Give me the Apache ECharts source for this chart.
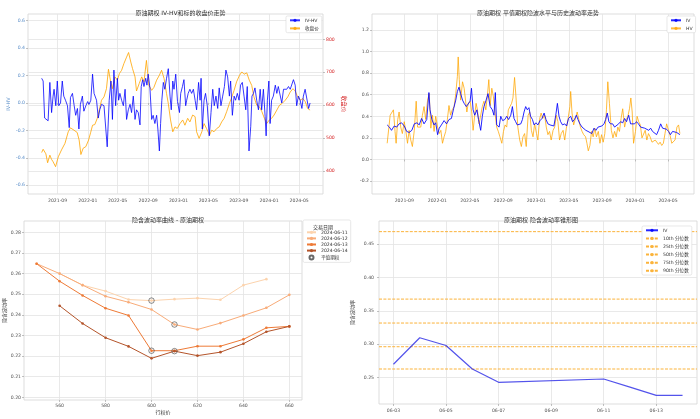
<!DOCTYPE html>
<html><head><meta charset="utf-8">
<script src="https://cdn.jsdelivr.net/npm/echarts@6/dist/echarts.min.js"></script>
<style>html,body{margin:0;padding:0;background:#fff}#c{width:700px;height:419px}</style>
</head><body><div id="c"></div>
<script>
// ---------- data: top-left (IV-HV and underlying close) ----------
const ivhvDates = ['2021-06-29','2021-07-05','2021-07-11','2021-07-18','2021-07-25','2021-08-01','2021-08-08','2021-08-14','2021-08-18','2021-08-25','2021-08-31','2021-09-06','2021-09-13','2021-09-20','2021-09-26','2021-10-03','2021-10-11','2021-10-18','2021-10-23','2021-10-31','2021-11-07','2021-11-13','2021-11-20','2021-11-26','2021-12-02','2021-12-10','2021-12-16','2021-12-24','2021-12-31','2022-01-06','2022-01-13','2022-01-20','2022-01-26','2022-02-05','2022-02-12','2022-02-18','2022-02-25','2022-03-07','2022-03-15','2022-03-20','2022-03-28','2022-04-04','2022-04-10','2022-04-16','2022-04-23','2022-04-30','2022-05-05','2022-05-10','2022-05-17','2022-05-24','2022-05-31','2022-06-06','2022-06-13','2022-06-20','2022-06-26','2022-07-03','2022-07-10','2022-07-16','2022-07-23','2022-07-30','2022-08-04','2022-08-10','2022-08-15','2022-08-22','2022-08-27','2022-09-01','2022-09-08','2022-09-15','2022-09-21','2022-09-28','2022-10-05','2022-10-10','2022-10-16','2022-10-21','2022-10-26','2022-11-01','2022-11-07','2022-11-14','2022-11-21','2022-11-28','2022-12-03','2022-12-09','2022-12-14','2022-12-21','2022-12-28','2023-01-05','2023-01-10','2023-01-17','2023-01-23','2023-01-30','2023-02-03','2023-02-09','2023-02-16','2023-02-23','2023-03-02','2023-03-09','2023-03-15','2023-03-23','2023-03-29','2023-04-02','2023-04-07','2023-04-14','2023-04-20','2023-04-27','2023-05-05','2023-05-12','2023-05-19','2023-05-25','2023-06-01','2023-06-08','2023-06-14','2023-06-21','2023-06-28','2023-07-05','2023-07-11','2023-07-18','2023-07-25','2023-07-30','2023-08-06','2023-08-13','2023-08-19','2023-08-26','2023-09-02','2023-09-08','2023-09-15','2023-09-22','2023-09-29','2023-10-05','2023-10-12','2023-10-19','2023-10-24','2023-10-30','2023-11-05','2023-11-12','2023-11-19','2023-11-26','2023-12-02','2023-12-09','2023-12-16','2023-12-20','2023-12-25','2023-12-31','2024-01-05','2024-01-11','2024-01-18','2024-01-26','2024-02-01','2024-02-07','2024-02-14','2024-02-21','2024-02-28','2024-03-06','2024-03-12','2024-03-19','2024-03-26','2024-04-01','2024-04-08','2024-04-15','2024-04-21','2024-04-28','2024-05-05','2024-05-12','2024-05-18','2024-05-25','2024-06-01','2024-06-08','2024-06-14'];
const ivhvValues = [0.18,0.16,-0.11,-0.12,-0.13,0.15,-0.07,0.05,0.10,-0.02,0.16,-0.02,0.00,0.16,0.05,0.02,-0.02,-0.18,0.04,0.07,-0.02,-0.09,-0.04,-0.19,-0.01,0.05,-0.06,-0.02,0.01,-0.01,0.02,0.21,0.07,0.02,-0.11,-0.05,-0.01,-0.02,-0.02,-0.32,0.02,0.16,-0.12,0.24,-0.02,0.18,0.02,0.07,0.02,-0.02,0.10,-0.12,-0.05,-0.01,-0.07,0.05,-0.12,-0.05,-0.07,-0.16,0.12,0.17,0.12,0.18,0.13,0.21,0.11,-0.12,-0.09,-0.15,-0.09,-0.19,-0.35,-0.15,0.02,0.15,0.10,0.18,0.25,0.05,-0.05,0.16,0.10,0.21,0.01,-0.07,0.07,0.12,0.17,-0.02,0.02,0.07,0.10,0.07,0.10,0.02,-0.05,0.15,0.02,0.18,-0.19,0.02,0.07,-0.02,-0.24,-0.07,0.10,-0.02,0.05,-0.04,0.11,-0.02,0.05,0.12,0.24,0.19,0.05,0.16,-0.09,0.05,0.02,0.07,0.02,0.13,0.15,0.05,-0.05,0.12,-0.35,-0.17,0.05,0.07,0.11,0.02,-0.05,0.10,-0.05,0.10,-0.10,-0.24,0.02,0.16,-0.15,0.02,0.05,0.13,0.07,0.12,0.11,0.00,0.10,0.11,0.10,0.12,0.10,0.11,0.17,0.13,-0.02,0.05,0.02,-0.04,0.05,0.10,0.09,-0.04,0.00];
const priceDates = ['2021-06-29','2021-07-05','2021-07-16','2021-07-23','2021-08-01','2021-08-08','2021-08-14','2021-08-24','2021-09-04','2021-09-17','2021-10-01','2021-10-14','2021-10-23','2021-11-06','2021-11-19','2021-11-27','2021-12-04','2021-12-13','2021-12-24','2022-01-04','2022-01-12','2022-01-20','2022-01-29','2022-02-08','2022-02-16','2022-02-25','2022-03-07','2022-03-17','2022-03-25','2022-04-03','2022-04-10','2022-04-20','2022-04-30','2022-05-08','2022-05-17','2022-05-26','2022-06-06','2022-06-14','2022-06-23','2022-06-30','2022-07-10','2022-07-16','2022-07-27','2022-08-06','2022-08-15','2022-08-25','2022-09-04','2022-09-15','2022-09-24','2022-10-05','2022-10-16','2022-10-25','2022-11-04','2022-11-14','2022-11-21','2022-11-30','2022-12-09','2022-12-18','2022-12-27','2023-01-07','2023-01-18','2023-01-27','2023-02-07','2023-02-16','2023-02-27','2023-03-09','2023-03-15','2023-03-25','2023-04-05','2023-04-14','2023-04-24','2023-05-06','2023-05-15','2023-05-24','2023-06-04','2023-06-14','2023-06-24','2023-07-04','2023-07-14','2023-07-25','2023-08-04','2023-08-13','2023-08-23','2023-09-04','2023-09-13','2023-09-22','2023-10-03','2023-10-13','2023-10-23','2023-11-01','2023-11-12','2023-11-23','2023-12-03','2023-12-13','2023-12-22','2024-01-02','2024-01-11','2024-01-21','2024-02-01','2024-02-12','2024-02-22','2024-03-06','2024-03-16','2024-03-26','2024-04-06','2024-04-15','2024-04-25','2024-05-05','2024-05-16','2024-05-26','2024-06-04','2024-06-14'];
const priceValues = [456,466,452,425,448,435,428,413,443,464,484,519,531,524,517,494,450,469,474,494,516,539,541,560,585,615,625,650,709,671,650,686,676,696,706,726,746,760,731,711,686,643,666,686,671,736,660,645,654,676,691,706,681,635,605,555,519,534,529,544,555,539,560,549,570,565,519,499,519,544,529,509,524,519,529,534,549,560,580,605,625,645,671,691,701,694,698,676,660,625,600,595,580,560,544,555,560,570,585,600,605,615,625,640,650,643,625,615,620,610,590,585];
// ---------- data: top-right (ATM IV and HV) ----------
const ivDates = ['2021-06-30','2021-07-08','2021-07-16','2021-07-26','2021-08-04','2021-08-13','2021-08-22','2021-09-01','2021-09-10','2021-09-19','2021-09-29','2021-10-08','2021-10-18','2021-10-26','2021-11-04','2021-11-13','2021-11-23','2021-12-01','2021-12-05','2021-12-12','2021-12-20','2021-12-26','2022-01-02','2022-01-08','2022-01-16','2022-01-26','2022-02-04','2022-02-13','2022-02-22','2022-03-02','2022-03-10','2022-03-16','2022-03-22','2022-03-28','2022-04-04','2022-04-10','2022-04-18','2022-04-25','2022-05-02','2022-05-07','2022-05-13','2022-05-19','2022-05-27','2022-06-02','2022-06-10','2022-06-16','2022-06-22','2022-06-30','2022-07-07','2022-07-15','2022-07-23','2022-07-29','2022-08-03','2022-08-08','2022-08-17','2022-08-23','2022-08-30','2022-09-07','2022-09-14','2022-09-21','2022-09-29','2022-10-05','2022-10-11','2022-10-17','2022-10-23','2022-10-29','2022-11-05','2022-11-11','2022-11-17','2022-11-23','2022-11-29','2022-12-05','2022-12-11','2022-12-18','2022-12-24','2022-12-31','2023-01-07','2023-01-15','2023-01-22','2023-01-30','2023-02-06','2023-02-13','2023-02-21','2023-02-28','2023-03-07','2023-03-14','2023-03-20','2023-03-26','2023-04-01','2023-04-08','2023-04-16','2023-04-23','2023-04-30','2023-05-08','2023-05-15','2023-05-22','2023-05-29','2023-06-04','2023-06-11','2023-06-19','2023-06-26','2023-07-03','2023-07-11','2023-07-18','2023-07-25','2023-08-02','2023-08-09','2023-08-17','2023-08-24','2023-08-31','2023-09-08','2023-09-14','2023-09-20','2023-09-26','2023-10-02','2023-10-10','2023-10-17','2023-10-24','2023-11-01','2023-11-08','2023-11-16','2023-11-23','2023-11-30','2023-12-08','2023-12-15','2023-12-22','2023-12-30','2024-01-06','2024-01-13','2024-01-21','2024-01-28','2024-02-05','2024-02-12','2024-02-20','2024-02-27','2024-03-05','2024-03-12','2024-03-20','2024-03-27','2024-04-04','2024-04-11','2024-04-18','2024-04-26','2024-05-03','2024-05-10','2024-05-18','2024-05-25','2024-06-02','2024-06-09','2024-06-14'];
const ivValues = [0.32,0.30,0.27,0.31,0.30,0.33,0.34,0.31,0.26,0.25,0.27,0.33,0.34,0.32,0.38,0.33,0.37,0.62,0.46,0.37,0.32,0.34,0.23,0.29,0.32,0.36,0.33,0.37,0.38,0.47,0.55,0.63,0.67,0.61,0.55,0.52,0.49,0.50,0.54,0.66,0.46,0.41,0.46,0.37,0.27,0.40,0.49,0.55,0.61,0.49,0.46,0.41,0.62,0.32,0.30,0.40,0.36,0.37,0.40,0.37,0.41,0.49,0.38,0.35,0.32,0.33,0.33,0.37,0.44,0.49,0.46,0.48,0.40,0.37,0.32,0.34,0.32,0.36,0.38,0.43,0.37,0.33,0.32,0.33,0.31,0.41,0.52,0.40,0.35,0.32,0.33,0.31,0.38,0.40,0.35,0.37,0.41,0.37,0.33,0.30,0.29,0.27,0.26,0.27,0.24,0.29,0.27,0.30,0.29,0.31,0.33,0.37,0.43,0.35,0.33,0.33,0.30,0.31,0.33,0.35,0.34,0.38,0.35,0.41,0.33,0.32,0.33,0.35,0.33,0.30,0.31,0.29,0.30,0.27,0.29,0.26,0.25,0.23,0.27,0.33,0.29,0.30,0.28,0.26,0.23,0.26,0.27,0.25,0.26,0.23];
const hvDates = ['2021-06-30','2021-07-05','2021-07-11','2021-07-17','2021-07-23','2021-07-29','2021-08-02','2021-08-08','2021-08-13','2021-08-19','2021-08-25','2021-09-01','2021-09-07','2021-09-13','2021-09-19','2021-09-25','2021-10-01','2021-10-08','2021-10-15','2021-10-20','2021-10-26','2021-11-01','2021-11-07','2021-11-13','2021-11-19','2021-11-26','2021-12-02','2021-12-08','2021-12-14','2021-12-20','2021-12-26','2022-01-02','2022-01-08','2022-01-14','2022-01-20','2022-01-26','2022-02-01','2022-02-07','2022-02-13','2022-02-19','2022-02-25','2022-03-04','2022-03-10','2022-03-16','2022-03-19','2022-03-23','2022-03-28','2022-04-04','2022-04-10','2022-04-16','2022-04-20','2022-04-25','2022-05-02','2022-05-08','2022-05-13','2022-05-19','2022-05-24','2022-05-29','2022-06-04','2022-06-10','2022-06-16','2022-06-22','2022-06-29','2022-07-05','2022-07-10','2022-07-15','2022-07-21','2022-07-27','2022-08-02','2022-08-08','2022-08-14','2022-08-20','2022-08-27','2022-09-02','2022-09-08','2022-09-14','2022-09-20','2022-09-26','2022-10-02','2022-10-07','2022-10-13','2022-10-19','2022-10-25','2022-11-01','2022-11-07','2022-11-13','2022-11-19','2022-11-25','2022-12-02','2022-12-08','2022-12-14','2022-12-20','2022-12-26','2023-01-02','2023-01-07','2023-01-13','2023-01-19','2023-01-25','2023-02-01','2023-02-07','2023-02-13','2023-02-19','2023-02-25','2023-03-04','2023-03-10','2023-03-16','2023-03-22','2023-03-28','2023-04-03','2023-04-10','2023-04-16','2023-04-22','2023-04-28','2023-05-05','2023-05-08','2023-05-13','2023-05-19','2023-05-25','2023-06-01','2023-06-07','2023-06-13','2023-06-19','2023-06-25','2023-07-02','2023-07-07','2023-07-12','2023-07-18','2023-07-24','2023-07-30','2023-08-05','2023-08-11','2023-08-18','2023-08-24','2023-08-30','2023-09-05','2023-09-11','2023-09-17','2023-09-22','2023-09-28','2023-10-05','2023-10-11','2023-10-17','2023-10-23','2023-10-29','2023-11-04','2023-11-10','2023-11-16','2023-11-23','2023-11-29','2023-12-05','2023-12-11','2023-12-16','2023-12-21','2023-12-26','2024-01-02','2024-01-08','2024-01-14','2024-01-20','2024-01-26','2024-02-01','2024-02-07','2024-02-13','2024-02-19','2024-02-25','2024-03-03','2024-03-09','2024-03-15','2024-03-21','2024-03-27','2024-04-02','2024-04-08','2024-04-14','2024-04-20','2024-04-26','2024-05-03','2024-05-09','2024-05-15','2024-05-21','2024-05-27','2024-06-03','2024-06-09','2024-06-14'];
const hvValues = [0.15,0.16,0.41,0.40,0.46,0.26,0.15,0.37,0.44,0.30,0.24,0.35,0.26,0.15,0.27,0.18,0.12,0.27,0.54,0.30,0.29,0.30,0.41,0.49,0.37,0.55,0.61,0.29,0.41,0.26,0.40,0.30,0.24,0.27,0.15,0.21,0.26,0.37,0.50,0.41,0.46,0.49,0.61,0.77,0.95,0.74,0.55,0.72,0.66,0.67,0.44,0.52,0.54,0.44,0.27,0.41,0.52,0.46,0.33,0.32,0.49,0.54,0.46,0.60,0.74,0.50,0.66,0.58,0.43,0.30,0.26,0.21,0.15,0.26,0.32,0.30,0.46,0.49,0.52,0.57,0.76,0.55,0.30,0.18,0.12,0.21,0.24,0.12,0.41,0.44,0.27,0.21,0.33,0.24,0.18,0.37,0.43,0.38,0.41,0.30,0.23,0.26,0.18,0.27,0.30,0.41,0.35,0.18,0.24,0.27,0.18,0.29,0.37,0.49,0.63,0.43,0.32,0.33,0.44,0.37,0.30,0.26,0.23,0.21,0.15,0.08,0.13,0.26,0.21,0.29,0.21,0.26,0.15,0.23,0.16,0.24,0.46,0.72,0.52,0.27,0.20,0.26,0.21,0.30,0.26,0.38,0.47,0.30,0.37,0.40,0.47,0.57,0.44,0.15,0.26,0.40,0.35,0.32,0.20,0.21,0.27,0.18,0.24,0.21,0.16,0.15,0.18,0.16,0.14,0.16,0.13,0.15,0.24,0.33,0.27,0.22,0.15,0.16,0.18,0.30,0.32,0.24];
// ---------- data: bottom-left (IV smile) ----------
const strikes = [550,560,570,580,590,600,610,620,630,640,650,660];
const smileDates = ['2024-06-11','2024-06-12','2024-06-13','2024-06-14'];
const smile0611 = [null,0.2600,0.2544,0.2515,0.2474,0.2469,0.2476,0.2481,0.2473,0.2544,0.2573,null];
const smile0612 = [0.2648,0.2600,0.2544,0.2490,0.2461,0.2426,0.2353,0.2329,0.2360,0.2397,0.2434,0.2497];
const smile0613 = [0.2648,0.2563,0.2494,0.2432,0.2397,0.2226,0.2226,0.2248,0.2248,0.2281,0.2337,0.2344];
const smile0614 = [null,0.2444,0.2358,0.2289,0.2247,0.2189,0.2224,0.2202,0.2219,0.2260,0.2318,0.2344];
const atmStrikes = [600,610,600,610];
const atmIV = [0.2469,0.2353,0.2226,0.2224];
// ---------- data: bottom-right (IV cone) ----------
const coneDates = ['2024-06-03','2024-06-04','2024-06-05','2024-06-06','2024-06-07','2024-06-11','2024-06-12','2024-06-13','2024-06-14'];
const coneIV = [0.2696,0.3095,0.2979,0.2625,0.2425,0.2475,0.2353,0.2229,0.2229];
const quantileNames = ['10th 分位数','25th 分位数','50th 分位数','75th 分位数','90th 分位数'];
const quantileValues = [0.2625,0.2960,0.3316,0.3676,0.4690];
// ---------- tick labels ----------
const longTicks = ['2021-09-01','2022-01-01','2022-05-01','2022-09-01','2023-01-01','2023-05-01','2023-09-01','2024-01-01','2024-05-01'];
const coneTicks = ['2024-06-03','2024-06-05','2024-06-07','2024-06-09','2024-06-11','2024-06-13'];
const ivhvTicks = [-0.6,-0.4,-0.2,0.0,0.2,0.4,0.6];
const priceTicks = [400,500,600,700,800];
const ivTicks = [-0.2,0.0,0.2,0.4,0.6,0.8,1.0,1.2];
const smileYTicks = [0.20,0.21,0.22,0.23,0.24,0.25,0.26,0.27,0.28];
const smileXTicks = [560,580,600,620,640,660];
const coneYTicks = [0.25,0.30,0.35,0.40,0.45];

// ---------- build ----------
const ts = s => { const [y,m,d] = s.split('-').map(Number); return new Date(y, m-1, d).getTime(); };
const pair = (ds, vs) => ds.map((d,i) => [ts(d), vs[i]]);
const pad2 = n => String(n).padStart(2,'0');
const fmtYM = v => { const d = new Date(v); return d.getFullYear() + '-' + pad2(d.getMonth()+1); };
const fmtMD = v => { const d = new Date(v); return pad2(d.getMonth()+1) + '-' + pad2(d.getDate()); };
const FAM = 'DejaVu Sans, "Noto Sans CJK SC", sans-serif';
const FS = 4.6;
const GRIDC = '#e3e3e3';
const LBL = '#555';
const DAY = 86400000;
const QCOL = '#fbb33a';

function axisCommon(ticks, fmt, color, margin) {
  return {
    axisLine: {show: false},
    axisTick: {show: true, length: 2, customValues: ticks, lineStyle: {color: '#999', width: 0.6}},
    axisLabel: {customValues: ticks, formatter: fmt, color: color || LBL, fontSize: FS, fontFamily: FAM, margin: margin || 3},
    splitLine: {show: true, lineStyle: {color: GRIDC, width: 0.8}}
  };
}

const chart = echarts.init(document.getElementById('c'), null, {renderer: 'canvas'});
const longMin = ts('2021-05-05'), longMax = ts('2024-08-05');
const coneMin = ts('2024-06-03') - 0.55*DAY, coneMax = ts('2024-06-14') + 0.55*DAY;
const titleStyle = {fontSize: 6, fontWeight: 'normal', color: '#333', fontFamily: FAM};

const smileColors = ['#fcd3ad', '#f8ab78', '#ee7a36', '#b4542a'];
const smileSets = [smile0611, smile0612, smile0613, smile0614];

const series = [
  {name: 'IV-HV', type: 'line', xAxisIndex: 0, yAxisIndex: 0, data: pair(ivhvDates, ivhvValues), symbol: 'none',
   lineStyle: {color: 'rgba(0,0,255,0.78)', width: 1}, itemStyle: {color: 'rgba(0,0,255,0.78)'}, z: 3},
  {name: '收盘价', type: 'line', xAxisIndex: 0, yAxisIndex: 1, data: pair(priceDates, priceValues), symbol: 'none',
   lineStyle: {color: 'rgba(255,165,0,0.8)', width: 1}, itemStyle: {color: 'rgba(255,165,0,0.8)'}, z: 2},
  {name: 'IV', type: 'line', xAxisIndex: 1, yAxisIndex: 2, data: pair(ivDates, ivValues), symbol: 'none',
   lineStyle: {color: 'rgba(0,0,255,0.85)', width: 1}, itemStyle: {color: 'rgba(0,0,255,0.85)'}, z: 3},
  {name: 'HV', type: 'line', xAxisIndex: 1, yAxisIndex: 2, data: pair(hvDates, hvValues), symbol: 'none',
   lineStyle: {color: 'rgba(255,165,0,0.75)', width: 1}, itemStyle: {color: 'rgba(255,165,0,0.75)'}, z: 2}
];
smileSets.forEach((arr, k) => {
  series.push({name: smileDates[k], type: 'line', xAxisIndex: 2, yAxisIndex: 3,
    data: strikes.map((s,i) => [s, arr[i]]).filter(p => p[1] !== null),
    symbol: 'circle', symbolSize: 2.6, showSymbol: true,
    lineStyle: {color: smileColors[k], width: 1}, itemStyle: {color: smileColors[k]}, z: 3});
});
series.push({name: '平值期权', type: 'scatter', xAxisIndex: 2, yAxisIndex: 3,
  data: atmStrikes.map((s,i) => [s, atmIV[i]]), symbol: 'circle', symbolSize: 5.5,
  itemStyle: {color: 'rgba(0,0,0,0)', borderColor: '#444', borderWidth: 0.8}, z: 5});
series.push({name: 'IV', type: 'line', xAxisIndex: 3, yAxisIndex: 4, data: pair(coneDates, coneIV), symbol: 'none',
  lineStyle: {color: 'rgba(40,40,230,0.8)', width: 1.2}, itemStyle: {color: 'rgba(40,40,230,0.8)'}, z: 4});
quantileNames.forEach((n, k) => {
  series.push({name: n, type: 'line', xAxisIndex: 3, yAxisIndex: 4, symbol: 'none', silent: true,
    data: [[coneMin, quantileValues[k]], [coneMax, quantileValues[k]]],
    lineStyle: {color: QCOL, width: 1, type: [3, 1.4]}, itemStyle: {color: QCOL}, z: 3});
});

const legendBase = {orient: 'vertical', itemWidth: 10, itemHeight: 4, backgroundColor: '#fff',
  borderColor: '#d8d8d8', borderWidth: 0.6, borderRadius: 1.5,
  textStyle: {fontSize: FS, fontFamily: FAM, color: '#333'}};

const option = {
  animation: false,
  backgroundColor: '#fff',
  title: [
    {text: '原油期权 IV-HV和标的收盘价走势', left: 175.5, top: 5, textAlign: 'center', textStyle: titleStyle},
    {text: '原油期权 平值期权隐波水平与历史波动率走势', left: 533, top: 5, textAlign: 'center', textStyle: titleStyle},
    {text: '隐含波动率曲线 - 原油期权', left: 163, top: 212, textAlign: 'center', textStyle: titleStyle},
    {text: '原油期权 隐含波动率锥形图', left: 536, top: 212, textAlign: 'center', textStyle: titleStyle}
  ],
  grid: [
    {left: 28, top: 14, width: 295, height: 180, show: true, borderColor: '#d4d4d4', borderWidth: 0.8},
    {left: 372, top: 14, width: 322, height: 180, show: true, borderColor: '#d4d4d4', borderWidth: 0.8},
    {left: 24, top: 221, width: 278, height: 179, show: true, borderColor: '#d4d4d4', borderWidth: 0.8},
    {left: 379, top: 221, width: 318, height: 183, show: true, borderColor: '#d4d4d4', borderWidth: 0.8}
  ],
  xAxis: [
    Object.assign({type: 'value', gridIndex: 0, min: longMin, max: longMax}, axisCommon(longTicks.map(ts), fmtYM, null, 4)),
    Object.assign({type: 'value', gridIndex: 1, min: longMin, max: longMax}, axisCommon(longTicks.map(ts), fmtYM, null, 4)),
    Object.assign({type: 'value', gridIndex: 2, min: 544.5, max: 665.5, name: '行权价', nameLocation: 'middle', nameGap: 10,
      nameTextStyle: {fontSize: 5, fontFamily: FAM, color: '#333'}}, axisCommon(smileXTicks, v => String(v), null, 3)),
    Object.assign({type: 'value', gridIndex: 3, min: coneMin, max: coneMax},
      axisCommon(coneTicks.map(ts), fmtMD, null, 4))
  ],
  yAxis: [
    Object.assign({type: 'value', gridIndex: 0, min: -0.664, max: 0.649, name: 'IV-HV', nameLocation: 'middle', nameGap: 17,
      nameTextStyle: {fontSize: 5, fontFamily: FAM, color: '#5b8fc9'}}, axisCommon(ivhvTicks, v => v.toFixed(1), '#5b8fc9', 3)),
    Object.assign({type: 'value', gridIndex: 0, position: 'right', min: 330, max: 877, name: '收盘价', nameLocation: 'middle', nameGap: 18,
      nameRotate: -90, nameTextStyle: {fontSize: 5.5, fontFamily: FAM, color: '#d62728'}}, axisCommon(priceTicks, v => String(v), '#d62728', 3)),
    Object.assign({type: 'value', gridIndex: 1, min: -0.32, max: 1.348}, axisCommon(ivTicks, v => v.toFixed(1), null, 3)),
    Object.assign({type: 'value', gridIndex: 2, min: 0.1987, max: 0.2855, name: '隐含波动率', nameLocation: 'middle', nameGap: 16,
      nameTextStyle: {fontSize: 5, fontFamily: FAM, color: '#333'}}, axisCommon(smileYTicks, v => v.toFixed(2), null, 3)),
    Object.assign({type: 'value', gridIndex: 3, min: 0.2099, max: 0.485, name: '隐含波动率', nameLocation: 'middle', nameGap: 24,
      nameTextStyle: {fontSize: 5, fontFamily: FAM, color: '#333'}}, axisCommon(coneYTicks, v => v.toFixed(2), null, 5))
  ],
  legend: [
    Object.assign({}, legendBase, {data: ['IV-HV', '收盘价'], left: 286, top: 16, padding: [2, 3, 2, 3], itemGap: 3.5}),
    Object.assign({}, legendBase, {data: ['IV', 'HV'], left: 667, top: 16, padding: [2, 3, 2, 3], itemGap: 3.5}),
    Object.assign({}, legendBase, {data: smileDates.concat(['平值期权']), left: 303, top: 220, padding: [10, 3, 2, 3], itemGap: 1.5, itemWidth: 9}),
    Object.assign({}, legendBase, {data: ['IV'].concat(quantileNames), left: 642, top: 226, padding: [2, 3, 2, 3], itemGap: 3.5, itemWidth: 12})
  ],
  graphic: [
    {type: 'text', left: 313, top: 225, z: 100, style: {text: '交易日期', fontSize: 5, fontFamily: FAM, fill: '#333'}}
  ],
  series: series
};
chart.setOption(option);
</script></body></html>
